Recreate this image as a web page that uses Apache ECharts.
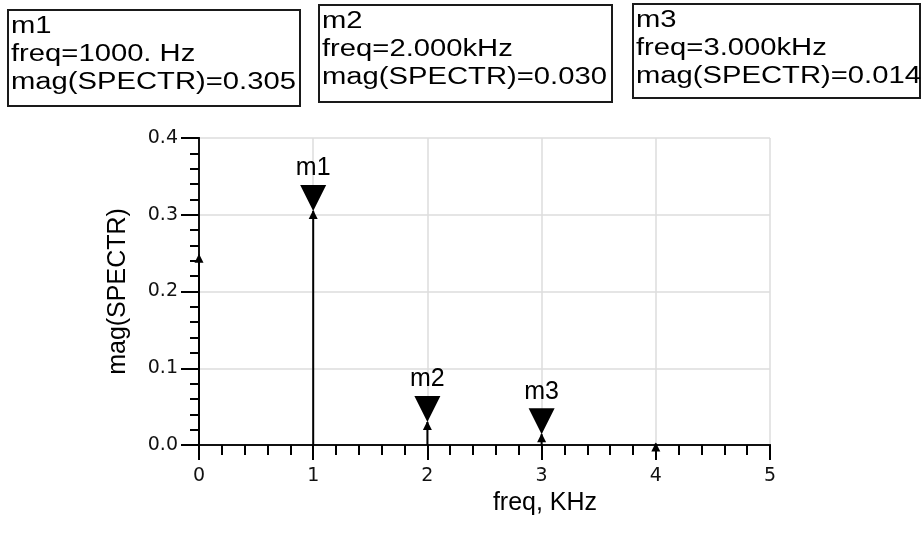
<!DOCTYPE html>
<html>
<head>
<meta charset="utf-8">
<script src="https://cdn.jsdelivr.net/npm/echarts@6/dist/echarts.min.js"></script>
<style>
  html, body { margin: 0; padding: 0; background: #fff; }
  #chart { width: 921px; height: 539px; }
</style>
</head>
<body>
<div id="chart"></div>
<script>
// Spectrum lines: frequency (kHz) and magnitude
const freqs = [0, 1, 2, 3, 4];
const mags = [0.248, 0.305, 0.030, 0.014, 0.002];

// Marker readouts
const markerNames = ['m1', 'm2', 'm3'];
const markerFreqs = [1, 2, 3];
const markerMags = [0.305, 0.030, 0.014];
const markerFreqText = ['1000. Hz', '2.000kHz', '3.000kHz'];

// Axis ticks
const xTicks = [0, 1, 2, 3, 4, 5];
const yTicks = ['0.0', '0.1', '0.2', '0.3', '0.4'];

const chart = echarts.init(document.getElementById('chart'));

const stemData = freqs.map((f, i) => [f, mags[i]]);
const markerData = markerFreqs.map((f, i) => ({ name: markerNames[i], value: [f, markerMags[i]] }));

// readout boxes above the plot
const boxes = [
  { x: 8, y: 10, w: 292, h: 96 },
  { x: 319, y: 5, w: 293, h: 97 },
  { x: 633, y: 4, w: 287, h: 94 }
];
const graphics = [];
boxes.forEach((b, i) => {
  graphics.push({
    type: 'rect', x: b.x, y: b.y,
    shape: { width: b.w, height: b.h },
    style: { fill: '#fff', stroke: '#1a1a1a', lineWidth: 2 }
  });
  const lines = [
    markerNames[i],
    'freq=' + markerFreqText[i],
    'mag(SPECTR)=' + markerMags[i].toFixed(3)
  ];
  lines.forEach((t, k) => {
    graphics.push({
      type: 'text', x: b.x + 3, y: b.y + 28 + k * 28,
      scaleX: 1.27,
      style: {
        text: t, fill: '#000',
        font: '23px "Liberation Sans", Arial, sans-serif',
        textAlign: 'left', textVerticalAlign: 'bottom'
      }
    });
  });
});

const tickFont = { fontFamily: 'DejaVu Sans', fontSize: 19, color: '#111' };
const frameLine = { lineStyle: { color: '#111', width: 2 } };

chart.setOption({
  animation: false,
  backgroundColor: '#fff',
  grid: { left: 199, right: 151, top: 138, bottom: 94 },
  xAxis: [
    {
      type: 'value', min: xTicks[0], max: xTicks[xTicks.length - 1], interval: 1,
      name: 'freq, KHz', nameLocation: 'middle', nameGap: 42,
      nameTextStyle: { fontFamily: 'Liberation Sans', fontSize: 25, color: '#000', padding: [0, 0, 0, 121] },
      axisLine: { lineStyle: { color: '#000', width: 2 } },
      axisTick: { length: 15, lineStyle: { color: '#000', width: 2 } },
      minorTick: { show: true, splitNumber: 5, length: 10, lineStyle: { color: '#000', width: 2 } },
      splitLine: { show: true, lineStyle: { color: '#dcdcdc', width: 1.5 } },
      axisLabel: Object.assign({ margin: 22, formatter: v => String(v) }, tickFont),
      z: 5
    },
    {
      type: 'value', position: 'top', min: 0, max: 5,
      axisLine: Object.assign({ show: true }, frameLine),
      axisTick: { show: false }, axisLabel: { show: false }, splitLine: { show: false },
      z: 5
    }
  ],
  yAxis: [
    {
      type: 'value', min: 0, max: 0.4, interval: 0.1,
      name: 'mag(SPECTR)', nameLocation: 'middle', nameGap: 68,
      nameTextStyle: { fontFamily: 'Liberation Sans', fontSize: 25, color: '#000' },
      axisLine: { lineStyle: { color: '#000', width: 2 } },
      axisTick: { length: 18, lineStyle: { color: '#000', width: 2 } },
      minorTick: { show: true, splitNumber: 5, length: 9, lineStyle: { color: '#000', width: 2 } },
      splitLine: { show: true, lineStyle: { color: '#dcdcdc', width: 1.5 } },
      axisLabel: Object.assign({ margin: 21, formatter: v => yTicks[Math.round(v * 10)] }, tickFont),
      z: 5
    },
    {
      type: 'value', position: 'right', min: 0, max: 0.4,
      axisLine: Object.assign({ show: true }, frameLine),
      axisTick: { show: false }, axisLabel: { show: false }, splitLine: { show: false },
      z: 5
    }
  ],
  graphic: graphics,
  series: [
    {
      type: 'custom',
      data: stemData,
      z: 10,
      renderItem: (params, api) => {
        const base = api.coord([api.value(0), 0]);
        const top = api.coord([api.value(0), api.value(1)]);
        return {
          type: 'group',
          children: [
            { type: 'line', shape: { x1: base[0], y1: base[1], x2: top[0], y2: top[1] },
              style: { stroke: '#000', lineWidth: 2 } },
            { type: 'polygon', shape: { points: [[top[0], top[1] - 1], [top[0] - 4.5, top[1] + 8], [top[0] + 4.5, top[1] + 8]] },
              style: { fill: '#000' } }
          ]
        };
      }
    },
    {
      type: 'scatter',
      data: markerData,
      z: 11,
      symbol: 'triangle',
      symbolRotate: 180,
      symbolSize: [26, 26],
      symbolOffset: [0, -13],
      itemStyle: { color: '#000', opacity: 1 },
      label: {
        show: true, position: 'top', distance: 4,
        formatter: p => p.name,
        fontFamily: 'Liberation Sans', fontSize: 25, color: '#000'
      }
    }
  ]
});
</script>
</body>
</html>
